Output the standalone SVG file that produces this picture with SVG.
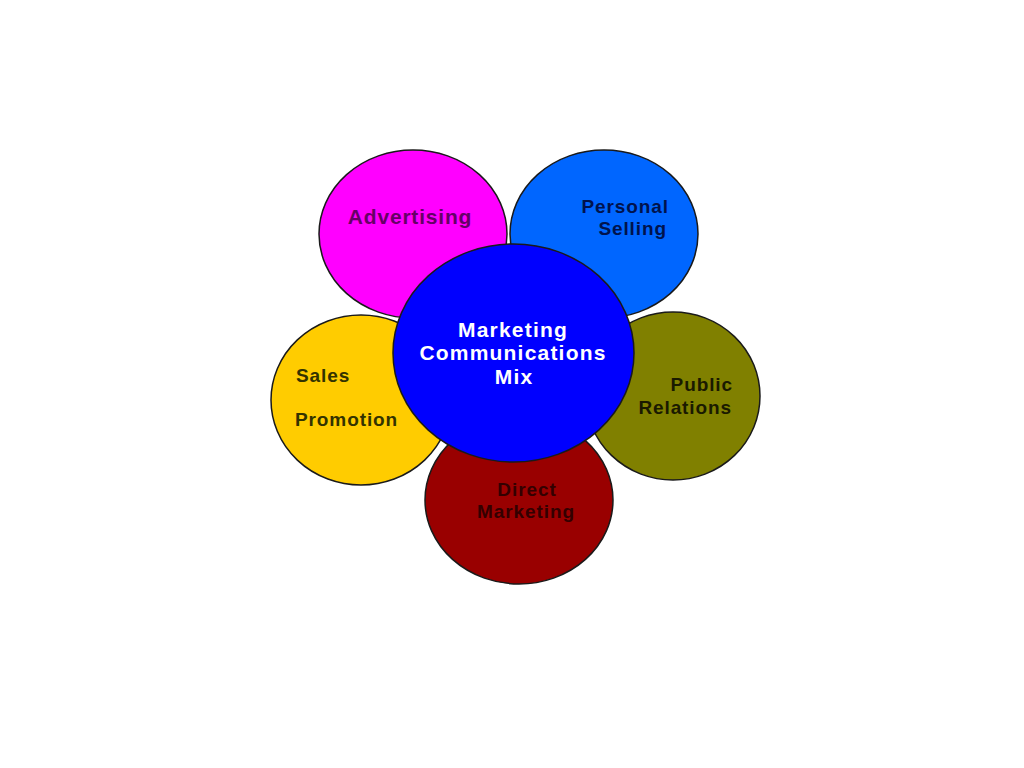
<svg xmlns="http://www.w3.org/2000/svg" width="1024" height="768" viewBox="0 0 1024 768">
<style>
.c{stroke:#1a1a1a;stroke-width:1.5}
.t{font-family:"Liberation Sans",Arial,sans-serif;font-weight:bold;font-size:19px;letter-spacing:0.9px}
.big{font-size:21px;letter-spacing:0.8px}
.mid{font-size:21px;letter-spacing:1.2px}
</style>
<rect width="1024" height="768" fill="#ffffff"/>
<g id="sales-promotion">
<ellipse class="c" cx="361" cy="400" rx="90" ry="85" fill="#FFCC00"/>
<text class="t" fill="#333300" x="296" y="382">Sales</text>
<text class="t" fill="#333300" x="295" y="426">Promotion</text>
</g>
<g id="public-relations">
<ellipse class="c" cx="673" cy="396" rx="87" ry="84" fill="#808000"/>
<text class="t" fill="#1a1a00" x="733" y="391" text-anchor="end">Public</text>
<text class="t" fill="#1a1a00" x="732" y="414" text-anchor="end">Relations</text>
</g>
<g id="direct-marketing">
<ellipse class="c" cx="519" cy="500" rx="94" ry="84" fill="#990000"/>
<text class="t" fill="#330000" x="527" y="496" text-anchor="middle">Direct</text>
<text class="t" fill="#330000" x="526" y="518" text-anchor="middle">Marketing</text>
</g>
<g id="advertising">
<ellipse class="c" cx="413" cy="234" rx="94" ry="84" fill="#FF00FF"/>
<text class="t big" fill="#660066" x="410" y="224" text-anchor="middle">Advertising</text>
</g>
<g id="personal-selling">
<ellipse class="c" cx="604" cy="234" rx="94" ry="84" fill="#0066FF"/>
<text class="t" fill="#00134d" x="669" y="213" text-anchor="end">Personal</text>
<text class="t" fill="#00134d" x="667" y="235" text-anchor="end">Selling</text>
</g>
<g id="marketing-communications-mix">
<ellipse class="c" cx="513.5" cy="353" rx="120.5" ry="109" fill="#0000FF"/>
<text class="t mid" fill="#ffffff" x="513" y="337" text-anchor="middle">Marketing</text>
<text class="t mid" fill="#ffffff" x="513" y="360" text-anchor="middle">Communications</text>
<text class="t mid" fill="#ffffff" x="514" y="384" text-anchor="middle">Mix</text>
</g>
<g id="connectors"/>
</svg>
